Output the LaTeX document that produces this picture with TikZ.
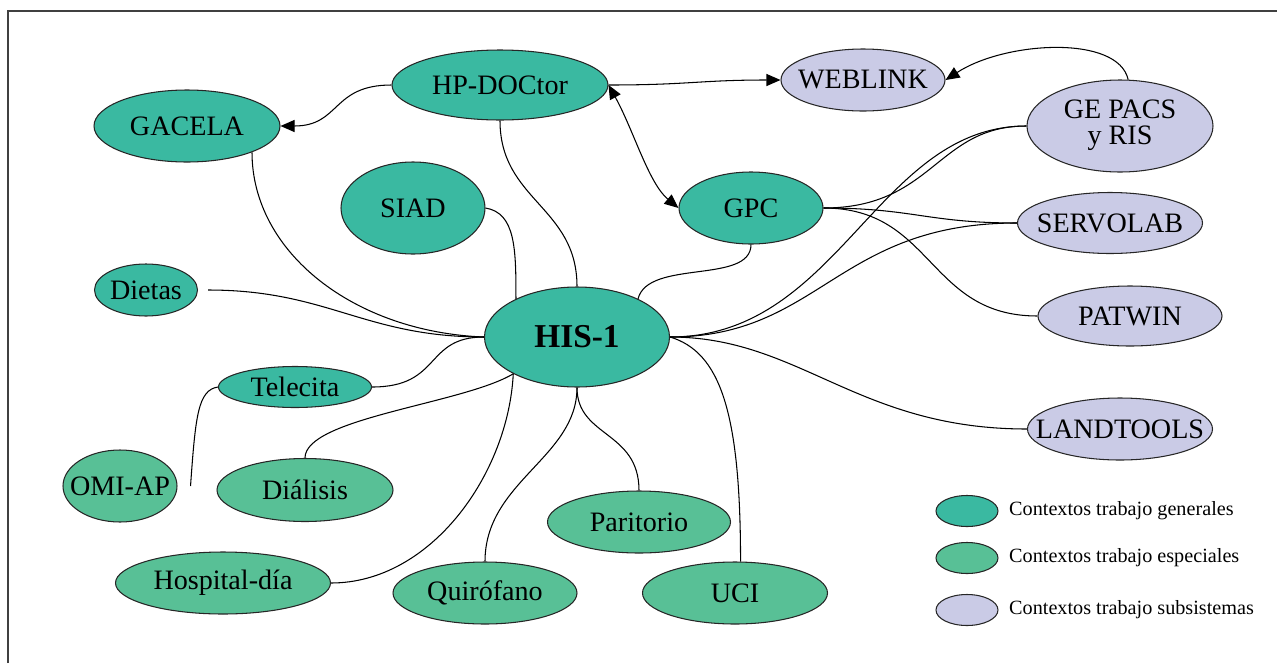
\documentclass[tikz,border=0pt]{standalone}
\usepackage{fontspec}
\setmainfont{Liberation Serif}
\usetikzlibrary{arrows.meta,shapes.geometric}
\definecolor{gencol}{RGB}{58,185,161}
\definecolor{espcol}{RGB}{88,192,150}
\definecolor{subcol}{RGB}{202,203,230}
\newcommand{\etq}[1]{\makebox[0pt]{#1}}

\begin{document}
\begin{tikzpicture}[x=0.2mm, y=-0.2mm,
    every node/.style={font=\fontsize{16}{15}\selectfont},
    ctx/.style={ellipse, draw=black!85, line width=0.6pt, inner sep=0pt},
    gen/.style={ctx, fill=gencol},
    esp/.style={ctx, fill=espcol},
    sub/.style={ctx, fill=subcol},
    sz/.style 2 args={minimum width=#1*0.2mm, minimum height=#2*0.2mm},
    link/.style={line width=0.6pt},
    flecha/.style={-{Triangle[length=2.8mm, width=2.4mm]}},
    dflecha/.style={{Triangle[length=2.8mm, width=2.4mm]}-{Triangle[length=2.8mm, width=2.4mm]}}]
    \useasboundingbox (0,0) rectangle (1277,663);
    \draw[line width=0.8pt, black!75] (8,663) -- (8,11) -- (1277,11);
    % contextos generales
    \node[gen, sz={216}{70}] (hp) at (500,85) {\etq{HP-DOCtor}};
    \node[gen, sz={186}{72}] (gacela) at (187,126) {\etq{GACELA}};
    \node[gen, sz={144}{92}] (siad) at (413,208) {\etq{SIAD}};
    \node[gen, sz={103}{52}] (dietas) at (146,290) {\etq{Dietas}};
    \node[gen, sz={185}{100}, font=\fontsize{19}{19}\selectfont\bfseries] (his) at (577,337) {\etq{HIS-1}};
    \node[gen, sz={144}{72}] (gpc) at (751,208) {\etq{GPC}};
    \node[gen, sz={153}{41}] (telecita) at (295,387) {\etq{Telecita}};
    % subsistemas
    \node[sub, sz={164}{62}] (weblink) at (863,80) {\etq{WEBLINK}};
    \node[sub, sz={186}{92}] (gepacs) at (1120,126) {\etq{\begin{tabular}{@{}c@{}}GE PACS\\y RIS\end{tabular}}};
    \node[sub, sz={185}{61}] (servolab) at (1110,223) {\etq{SERVOLAB}};
    \node[sub, sz={184}{60}] (patwin) at (1130,316) {\etq{PATWIN}};
    \node[sub, sz={185}{62}] (landtools) at (1120,429) {\etq{LANDTOOLS}};
    % contextos especiales
    \node[esp, sz={114}{72}] (omiap) at (120,486) {\etq{OMI-AP}};
    \node[esp, sz={176}{63}] (dialisis) at (305,490) {\etq{Diálisis}};
    \node[esp, sz={215}{62}] (hospital) at (223,583) {\etq{Hospital-día}};
    \node[esp, sz={184}{62}] (quirofano) at (485,593) {\etq{Quirófano}};
    \node[esp, sz={183}{62}] (paritorio) at (639,522) {\etq{Paritorio}};
    \node[esp, sz={185}{62}] (uci) at (735,593) {\etq{UCI}};
    % enlaces
    \draw[link, flecha] (hp.west) .. controls +(-60,0) and +(60,0) .. (gacela.east);
    \draw[link, flecha] (hp.east) .. controls +(80,0) and +(-80,0) .. (weblink.west);
    \draw[link, dflecha] (hp.east) .. controls +(25,45) and +(-30,-25) .. (gpc.west);
    \draw[link, flecha] (gepacs.80) .. controls +(-10,-45) and +(60,-39) .. (weblink.east);
    \draw[link] (hp.south) .. controls +(0,80) and +(0,-80) .. (his.north);
    \draw[link] (gacela.-22) .. controls +(0,100) and +(-130,-5) .. (his.west);
    \draw[link] (siad.east) .. controls +(30,5) and +(0,-50) .. (his.148);
    \draw[link, shorten <=2mm] (dietas.east) .. controls +(130,0) and +(-120,0) .. (his.west);
    \draw[link] (telecita.east) .. controls +(70,0) and +(-60,0) .. (his.west);
    \draw[link] (telecita.west) .. controls +(-20,3) and +(5,-70) .. ([xshift=2.6mm]omiap.east);
    \draw[link] (dialisis.north) .. controls +(0,-40) and +(-50,30) .. (his.-150);
    \draw[link] (hospital.east) .. controls +(100,0) and +(-5,100) .. (his.-150);
    \draw[link] (quirofano.north) .. controls +(0,-80) and +(0,70) .. (his.south);
    \draw[link] (paritorio.north) .. controls +(0,-60) and +(0,50) .. (his.south);
    \draw[link] (uci.80) .. controls +(0,-150) and +(50,15) .. (his.east);
    \draw[link] (landtools.west) .. controls +(-170,0) and +(130,0) .. (his.east);
    \draw[link] (gpc.south) .. controls +(0,40) and +(10,-40) .. (his.32);
    \draw[link] (gpc.east) .. controls +(110,0) and +(-90,0) .. (gepacs.west);
    \draw[link] (gpc.east) .. controls +(90,0) and +(-90,0) .. (servolab.west);
    \draw[link] (gpc.east) .. controls +(110,0) and +(-110,0) .. (patwin.west);
    \draw[link] (his.east) .. controls +(170,0) and +(-150,0) .. (gepacs.west);
    \draw[link] (his.east) .. controls +(150,0) and +(-180,0) .. (servolab.west);
    % leyenda
    \foreach \y/\s/\t [count=\i] in {511/gen/generales, 558/esp/especiales, 610/sub/subsistemas} {
        \node[\s, sz={62}{31}] (ley\i) at (967,\y) {};
        \node[font=\fontsize{11.5}{13}\selectfont, anchor=west] (leyt\i) at (1003,\y) {Contextos trabajo \t};
    }
\end{tikzpicture}
\end{document}
